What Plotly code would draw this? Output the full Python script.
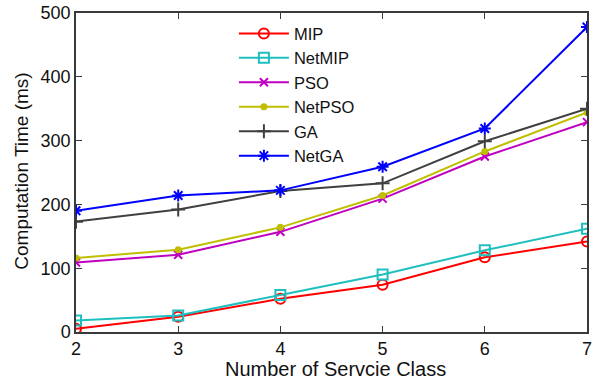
import plotly.graph_objects as go

# Number of service classes on the x axis
classes = [2, 3, 4, 5, 6, 7]

# Computation time (ms) for each method
mip = [5, 24, 52, 74, 117, 142]
net_mip = [18, 26, 58, 90, 128, 162]
pso = [109, 121, 157, 209, 275, 329]
net_pso = [116, 129, 164, 214, 283, 344]
ga = [173, 192, 221, 233, 299, 350]
net_ga = [190, 214, 222, 259, 319, 478]

series = [
    ("MIP", mip, "#ff0000", "circle-open", 10),
    ("NetMIP", net_mip, "#1fbfbf", "square-open", 10),
    ("PSO", pso, "#bf00bf", "x-thin-open", 8),
    ("NetPSO", net_pso, "#bfbf00", "circle", 5),
    ("GA", ga, "#404040", "cross-thin-open", 10),
    ("NetGA", net_ga, "#0000ff", "asterisk-open", 10),
]

FONT = "Liberation Sans, Arial, sans-serif"

fig = go.Figure()
for name, values, color, symbol, size in series:
    fig.add_trace(go.Scatter(
        x=classes, y=values, name=name, mode="lines+markers",
        line=dict(color=color, width=2),
        marker=dict(symbol=symbol, size=size, color=color,
                    line=dict(color=color, width=2)),
    ))

axis_common = dict(
    showline=True, linecolor="#3a3a3a", linewidth=1.5, mirror="ticks",
    ticks="inside", ticklen=6, tickcolor="#3a3a3a", tickwidth=1,
    showgrid=False, zeroline=False, automargin=False,
    tickfont=dict(family=FONT, size=18, color="#111111"),
)

fig.update_xaxes(range=[2, 7], tickvals=classes, **axis_common)
fig.update_yaxes(range=[0, 500], tick0=0, dtick=100, **axis_common)

# Axis titles placed as paper-anchored text
fig.add_annotation(
    text="Number of Servcie Class", xref="paper", yref="paper",
    x=0.507, y=-0.116, xanchor="center", yanchor="middle", showarrow=False,
    font=dict(family=FONT, size=20, color="#111111"),
)
fig.add_annotation(
    text="Computation Time (ms)", xref="paper", yref="paper",
    x=-0.106, y=0.505, xanchor="center", yanchor="middle", showarrow=False,
    textangle=-90, font=dict(family=FONT, size=19, color="#111111"),
)

fig.update_layout(
    width=614, height=384,
    margin=dict(l=76, r=27, t=13, b=52),
    paper_bgcolor="white", plot_bgcolor="white",
    showlegend=True,
    legend=dict(
        x=0.309, y=0.99, xanchor="left", yanchor="top",
        bgcolor="rgba(255,255,255,0)", borderwidth=0,
        font=dict(family=FONT, size=16.5, color="#111111"),
        itemwidth=50, tracegroupgap=0,
    ),
)

fig.write_html("out.html")
